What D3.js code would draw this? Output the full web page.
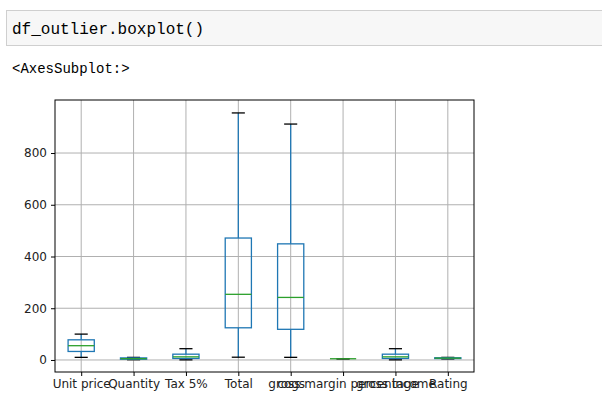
<!DOCTYPE html>
<html><head><meta charset="utf-8">
<script src="https://cdn.jsdelivr.net/npm/d3@7"></script>
<style>
body{margin:0;background:#fff;}
</style></head><body>
<svg id="c" width="602" height="408"></svg>
<script>
const categories = ["Unit price","Quantity","Tax 5%","Total","cogs","gross margin percentage","gross income","Rating"];
const whiskerLow = [10.1, 1, 0.5, 10.7, 10.2, 4.76, 0.5, 4];
const q1 = [32.9, 3, 5.9, 124.4, 118.5, 4.76, 5.9, 5.5];
const median = [55.2, 5, 12.1, 253.8, 241.8, 4.76, 12.1, 7];
const q3 = [77.9, 8, 22.4, 471.4, 448.9, 4.76, 22.4, 8.5];
const whiskerHigh = [99.96, 10, 43.6, 955, 912, 4.76, 43.6, 10];
const yTicks = [0, 200, 400, 600, 800];

const svg = d3.select("#c");
svg.append("rect").attr("x",6.5).attr("y",10.5).attr("width",600).attr("height",35)
  .attr("fill","#f7f7f7").attr("stroke","#cfcfcf");
svg.append("text").attr("x",12).attr("y",34).attr("font-family","Liberation Mono, monospace")
  .attr("font-size",16).attr("fill","#000").text("df_outlier.boxplot()");
svg.append("text").attr("x",12).attr("y",73).attr("font-family","Liberation Mono, monospace")
  .attr("font-size",14).attr("fill","#000").text("<AxesSubplot:>");

const L = 55, R = 474, T = 100, B = 372;
const x = d3.scaleLinear().domain([0.5, 8.5]).range([L, R]);
const y = d3.scaleLinear().domain([-46.5, 1005]).range([B, T]);
const g = svg.append("g");

// grid
g.selectAll(".gx").data(categories).join("line")
  .attr("x1",(d,i)=>x(i+1)).attr("x2",(d,i)=>x(i+1)).attr("y1",T).attr("y2",B)
  .attr("stroke","#b0b0b0").attr("stroke-width",1);
g.selectAll(".gy").data(yTicks).join("line")
  .attr("x1",L).attr("x2",R).attr("y1",d=>y(d)).attr("y2",d=>y(d))
  .attr("stroke","#b0b0b0").attr("stroke-width",1);

const bw = 52.4*0.25; // half box width
const cw = bw/2;
const idx = d3.range(categories.length);
const bx = g.selectAll(".b").data(idx).join("g").attr("stroke-width",1.3);
bx.append("line").attr("x1",i=>x(i+1)).attr("x2",i=>x(i+1)).attr("y1",i=>y(q1[i])).attr("y2",i=>y(whiskerLow[i])).attr("stroke","#1f77b4");
bx.append("line").attr("x1",i=>x(i+1)).attr("x2",i=>x(i+1)).attr("y1",i=>y(q3[i])).attr("y2",i=>y(whiskerHigh[i])).attr("stroke","#1f77b4");
bx.append("line").attr("x1",i=>x(i+1)-cw).attr("x2",i=>x(i+1)+cw).attr("y1",i=>y(whiskerLow[i])).attr("y2",i=>y(whiskerLow[i])).attr("stroke","#000");
bx.append("line").attr("x1",i=>x(i+1)-cw).attr("x2",i=>x(i+1)+cw).attr("y1",i=>y(whiskerHigh[i])).attr("y2",i=>y(whiskerHigh[i])).attr("stroke","#000");
bx.append("rect").attr("x",i=>x(i+1)-bw).attr("width",2*bw).attr("y",i=>y(q3[i])).attr("height",i=>Math.max(0,y(q1[i])-y(q3[i])))
  .attr("fill","none").attr("stroke","#1f77b4");
bx.append("line").attr("x1",i=>x(i+1)-bw).attr("x2",i=>x(i+1)+bw).attr("y1",i=>y(median[i])).attr("y2",i=>y(median[i])).attr("stroke","#2ca02c");

// frame
g.append("rect").attr("x",L).attr("y",T).attr("width",R-L).attr("height",B-T).attr("fill","none").attr("stroke","#000").attr("stroke-width",1);

const ya = g.append("g").attr("transform",`translate(${L},0)`)
  .call(d3.axisLeft(y).tickValues(yTicks).tickSize(4).tickPadding(4));
const xa = g.append("g").attr("transform",`translate(0,${B})`)
  .call(d3.axisBottom(x).tickValues(idx.map(i=>i+1)).tickFormat(d=>categories[d-1]).tickSize(4).tickPadding(3));
[ya,xa].forEach(a=>{a.select(".domain").remove();
  a.selectAll("text").attr("font-family","DejaVu Sans").attr("font-size",12).attr("fill","#222");});
</script>
</body></html>
